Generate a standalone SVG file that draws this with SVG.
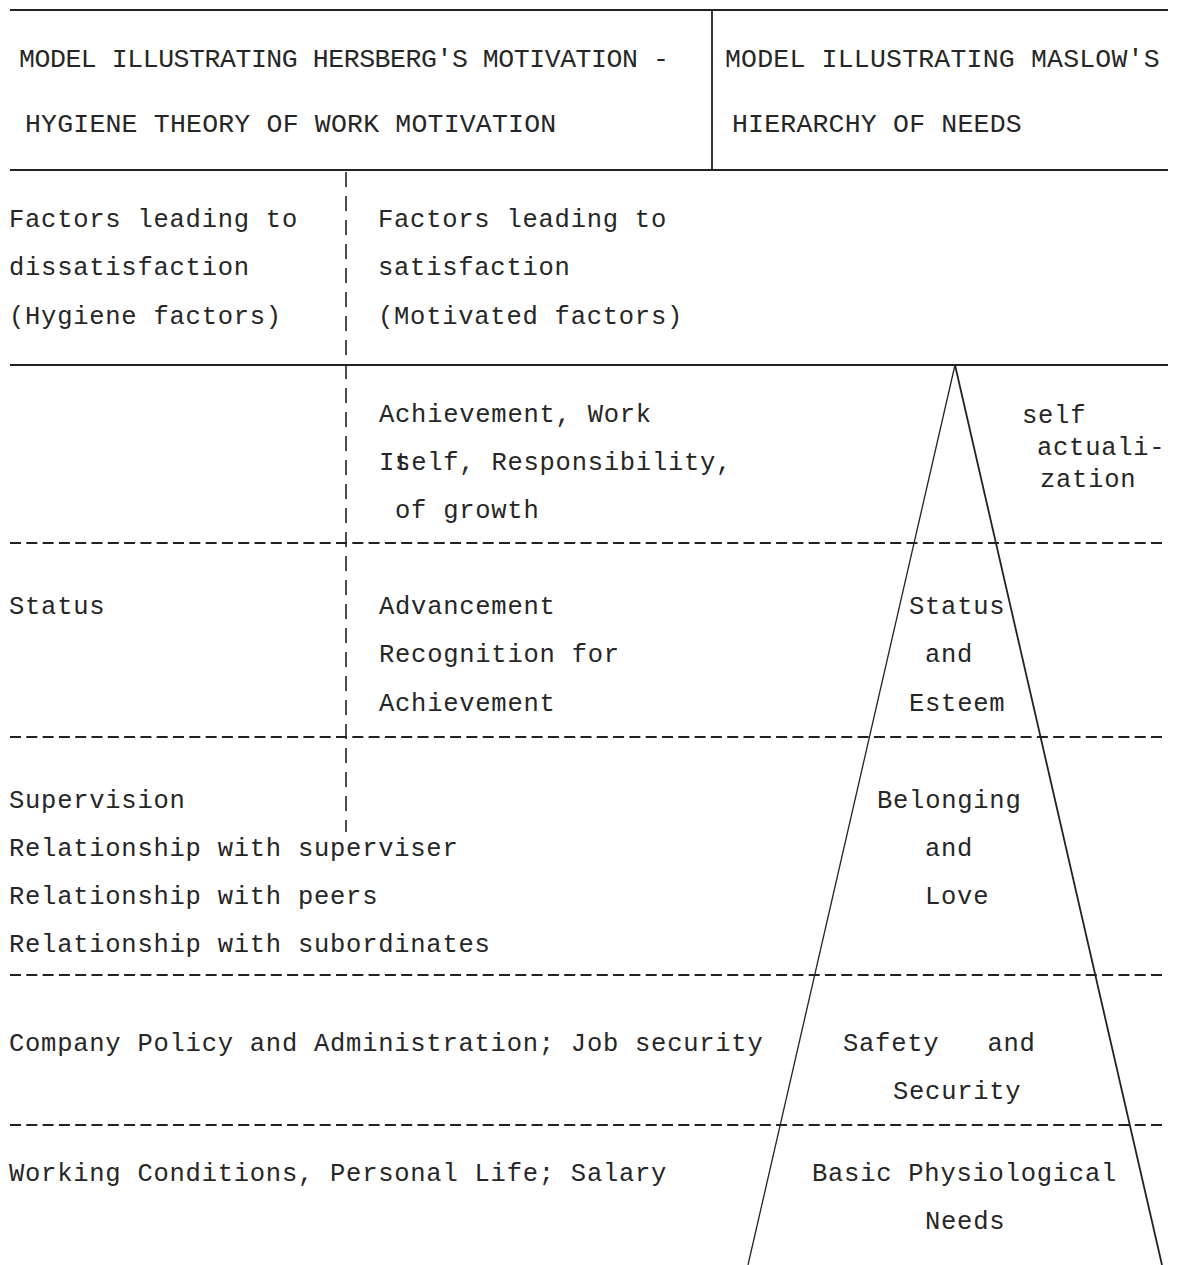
<svg xmlns="http://www.w3.org/2000/svg" width="1183" height="1265" viewBox="0 0 1183 1265">
  <style>
    .t { font-family: "Liberation Mono", "DejaVu Sans Mono", monospace; font-size: 25.5px; letter-spacing: 0.75px; fill: #262626; }
    .h { font-family: "Liberation Mono", "DejaVu Sans Mono", monospace; font-size: 26.5px; letter-spacing: 0.2px; fill: #262626; }
    .solid { stroke: #222; stroke-width: 1.8; fill: none; }
    .dash { stroke: #222; stroke-width: 1.8; fill: none; stroke-dasharray: 11 5.3; }
    .vdash { stroke: #222; stroke-width: 1.6; fill: none; stroke-dasharray: 15 9; }
    .tri { stroke: #222; fill: none; }
  </style>
  <rect width="1183" height="1265" fill="#ffffff"/>

  <!-- table rules -->
  <g id="rules">
    <path class="solid" d="M10 10 H1168 M10 170 H1168 M10 365 H1168 M712 10 V170"/>
    <path class="dash" d="M10 543 H1166 M10 737 H1166 M10 975 H1166 M10 1125 H1166"/>
    <path class="vdash" d="M346 172 V832"/>
  </g>

  <!-- Maslow pyramid -->
  <g id="pyramid">
    <path class="tri" stroke-width="1.3" d="M955 365 L748 1265"/>
    <path class="tri" stroke-width="1.8" d="M955 365 L1162 1265"/>
  </g>

  <!-- headings -->
  <g id="heading-herzberg">
    <text class="h" x="19" y="67" textLength="650">MODEL ILLUSTRATING HERSBERG'S MOTIVATION -</text>
    <text class="h" x="25" y="132">HYGIENE THEORY OF WORK MOTIVATION</text>
  </g>
  <g id="heading-maslow">
    <text class="h" x="725" y="67">MODEL ILLUSTRATING MASLOW'S</text>
    <text class="h" x="732" y="132">HIERARCHY OF NEEDS</text>
  </g>

  <!-- column headings -->
  <g id="col-hygiene">
    <text class="t" x="9" y="227">Factors leading to</text>
    <text class="t" x="9" y="275">dissatisfaction</text>
    <text class="t" x="9" y="324">(Hygiene factors)</text>
  </g>
  <g id="col-motivators">
    <text class="t" x="378" y="227">Factors leading to</text>
    <text class="t" x="378" y="275">satisfaction</text>
    <text class="t" x="378" y="324">(Motivated factors)</text>
  </g>

  <!-- level 1: self actualization -->
  <g id="row-self">
    <text class="t" x="379" y="422">Achievement, Work</text>
    <text class="t" x="379" y="470">I<tspan>t</tspan><tspan dx="-16.05">s</tspan>elf, Responsibility,</text>
    <text class="t" x="395" y="518">of growth</text>
    <text class="t" x="1022" y="423">self</text>
    <text class="t" x="1037" y="455">actuali-</text>
    <text class="t" x="1040" y="487">zation</text>
  </g>

  <!-- level 2: status and esteem -->
  <g id="row-status">
    <text class="t" x="9" y="614">Status</text>
    <text class="t" x="379" y="614">Advancement</text>
    <text class="t" x="379" y="662">Recognition for</text>
    <text class="t" x="379" y="711">Achievement</text>
    <text class="t" x="909" y="614">Status</text>
    <text class="t" x="925" y="662">and</text>
    <text class="t" x="909" y="711">Esteem</text>
  </g>

  <!-- level 3: belonging and love -->
  <g id="row-belonging">
    <text class="t" x="9" y="808">Supervision</text>
    <text class="t" x="9" y="856">Relationship with superviser</text>
    <text class="t" x="9" y="904">Relationship with peers</text>
    <text class="t" x="9" y="952">Relationship with subordinates</text>
    <text class="t" x="877" y="808">Belonging</text>
    <text class="t" x="925" y="856">and</text>
    <text class="t" x="925" y="904">Love</text>
  </g>

  <!-- level 4: safety and security -->
  <g id="row-safety">
    <text class="t" x="9" y="1051">Company Policy and Administration; Job security</text>
    <text class="t" x="843" y="1051" xml:space="preserve">Safety   and</text>
    <text class="t" x="893" y="1099">Security</text>
  </g>

  <!-- level 5: physiological needs -->
  <g id="row-basic">
    <text class="t" x="9" y="1181">Working Conditions, Personal Life; Salary</text>
    <text class="t" x="812" y="1181">Basic Physiological</text>
    <text class="t" x="925" y="1229">Needs</text>
  </g>
</svg>
